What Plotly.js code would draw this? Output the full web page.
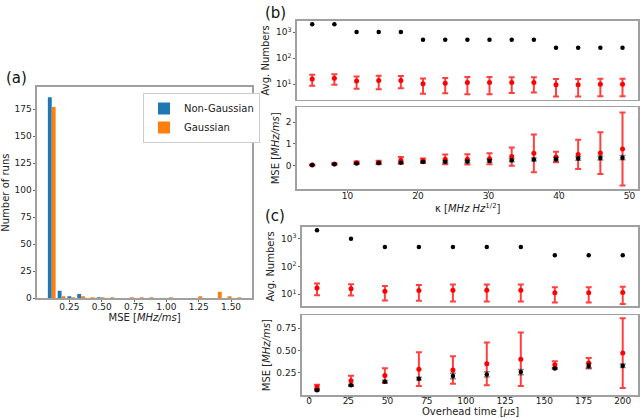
<!DOCTYPE html>
<html>
<head>
<meta charset="utf-8">
<script src="https://cdn.plot.ly/plotly-3.0.1.min.js"></script>
<style>
  body { margin: 0; background: #fff; }
  #chart { width: 640px; height: 418px; }
</style>
</head>
<body>
<div id="chart"></div>
<script>
// (a) histogram of MSE
var binCenters = [0.114, 0.190, 0.265, 0.341, 0.416, 0.492, 0.567, 0.643, 0.718, 0.794,
                  0.869, 0.945, 1.020, 1.096, 1.171, 1.247, 1.322, 1.398, 1.473, 1.549];
var countsNonGauss = [186, 7, 2, 4, 0, 1, 0, 0, 0, 0, 0, 0, 0, 0, 0, 0, 0, 0, 0, 0];
var countsGauss    = [177, 2, 1, 2, 1, 1, 1, 0, 1, 1, 1, 0, 1, 0, 0, 2, 0, 6, 2, 1];

// (b) vs kappa
var kappa = [5.00, 8.14, 11.29, 14.43, 17.57, 20.71, 23.86, 27.00, 30.14, 33.29, 36.43, 39.57, 42.71, 45.86, 49.00];
var kNumBlack = [2048, 2048, 1024, 1024, 1024, 512, 512, 512, 512, 512, 512, 256, 256, 256, 256];
var kNumRed = [16, 17, 13.3, 14, 14, 10.5, 11, 11.6, 11.6, 11.6, 11.7, 9.7, 9.7, 10, 10];
var kNumRedErr = [7.2, 7.4, 6.6, 7.5, 7, 6.2, 6.5, 7.5, 7.5, 7, 6.9, 6.3, 6.3, 6.5, 6.5];
var kMseRed = [0.03, 0.08, 0.14, 0.15, 0.25, 0.23, 0.29, 0.29, 0.32, 0.42, 0.57, 0.40, 0.52, 0.58, 0.77];
var kMseRedErr = [0.02, 0.03, 0.05, 0.08, 0.15, 0.1, 0.23, 0.24, 0.25, 0.42, 0.87, 0.24, 0.67, 0.96, 1.68];
var kMseBlack = [0.03, 0.07, 0.10, 0.12, 0.14, 0.17, 0.18, 0.19, 0.22, 0.25, 0.28, 0.30, 0.33, 0.35, 0.37];
var kMseBlackErr = [0.01, 0.02, 0.03, 0.03, 0.04, 0.04, 0.05, 0.05, 0.06, 0.07, 0.07, 0.08, 0.08, 0.09, 0.1];

// (c) vs overhead time
var overhead = [5, 26.7, 48.3, 70, 91.7, 113.3, 135, 156.7, 178.3, 200];
var tNumBlack = [2048, 1024, 512, 512, 512, 512, 512, 256, 256, 256];
var tNumRed = [17, 16, 13, 13.8, 14, 14, 14, 11.5, 11.5, 11.7];
var tNumRedErr = [7.7, 7, 7, 7.9, 8.5, 8.5, 8.5, 6.4, 6.4, 7.2];
var tMseRed = [0.09, 0.16, 0.22, 0.29, 0.28, 0.35, 0.40, 0.34, 0.36, 0.47];
var tMseRedErr = [0.025, 0.055, 0.08, 0.19, 0.155, 0.24, 0.30, 0.04, 0.055, 0.39];
var tMseBlack = [0.054, 0.11, 0.15, 0.183, 0.213, 0.231, 0.257, 0.298, 0.324, 0.328];
var tMseBlackErr = [0.01, 0.01, 0.015, 0.015, 0.03, 0.03, 0.03, 0.01, 0.03, 0.02];

var redErr = { type: "data", visible: true, color: "rgba(255,0,0,0.75)", thickness: 2, width: 3 };
var blackErr = { type: "data", visible: true, color: "rgba(0,0,0,0.45)", thickness: 1.5, width: 3 };

function redPts(x, y, e, xa, ya) {
  return {
    x: x, y: y, xaxis: xa, yaxis: ya, type: "scatter", mode: "markers",
    marker: { color: "red", size: 5 }, showlegend: false,
    error_y: Object.assign({ array: e }, redErr)
  };
}
function blackPts(x, y, e, xa, ya) {
  var t = {
    x: x, y: y, xaxis: xa, yaxis: ya, type: "scatter", mode: "markers",
    marker: { color: "black", size: 4.5 }, showlegend: false
  };
  if (e) t.error_y = Object.assign({ array: e }, blackErr);
  return t;
}

var data = [
  { x: binCenters, y: countsNonGauss, type: "bar", name: "Non-Gaussian", marker: { color: "#1f77b4" }, xaxis: "x", yaxis: "y" },
  { x: binCenters, y: countsGauss, type: "bar", name: "Gaussian", marker: { color: "#ff7f0e" }, xaxis: "x", yaxis: "y" },
  blackPts(kappa, kNumBlack, null, "x2", "y2"),
  redPts(kappa, kNumRed, kNumRedErr, "x2", "y2"),
  redPts(kappa, kMseRed, kMseRedErr, "x3", "y3"),
  blackPts(kappa, kMseBlack, kMseBlackErr, "x3", "y3"),
  blackPts(overhead, tNumBlack, null, "x4", "y4"),
  redPts(overhead, tNumRed, tNumRedErr, "x4", "y4"),
  redPts(overhead, tMseRed, tMseRedErr, "x5", "y5"),
  blackPts(overhead, tMseBlack, tMseBlackErr, "x5", "y5")
];

function ax(extra) {
  var base = {
    showline: true, mirror: true, linecolor: "#a0a0a0", linewidth: 1.5,
    ticks: "outside", ticklen: 2, tickcolor: "#666", showgrid: false, zeroline: false,
    tickfont: { size: 9, color: "#222" }
  };
  return Object.assign(base, extra);
}
function ttl(t, standoff) {
  return { text: t, font: { size: 10, color: "#222" }, standoff: standoff };
}

var logTicks = { type: "log", tickvals: [10, 100, 1000], ticktext: ["10<sup>1</sup>", "10<sup>2</sup>", "10<sup>3</sup>"] };

// panel letters and the x titles of the right-hand panels, placed in pixels
var labels = [
  { text: "(a)", x: 4, y: 78, size: 15, anchor: "left" },
  { text: "(b)", x: 263, y: 13, size: 15, anchor: "left" },
  { text: "(c)", x: 263, y: 216, size: 15, anchor: "left" },
  { text: "κ [<i>MHz Hz</i><sup>1/2</sup>]", x: 468, y: 207.5, size: 10, anchor: "center" },
  { text: "Overhead time [<i>μ</i>s]", x: 470, y: 411, size: 10, anchor: "center" }
];

var layout = {
  width: 640, height: 418,
  margin: { l: 0, r: 0, t: 0, b: 0 },
  paper_bgcolor: "#fff", plot_bgcolor: "#fff",
  font: { family: "DejaVu Sans, sans-serif", color: "#222" },
  barmode: "group", bargap: 0.2, bargroupgap: 0,
  showlegend: true,
  legend: {
    x: 0.2234, y: 0.7775, xanchor: "left", yanchor: "top",
    bgcolor: "#fff", bordercolor: "#ccc", borderwidth: 1,
    font: { size: 10 }, tracegroupgap: 0
  },
  xaxis: ax({ domain: [0.0578, 0.394], anchor: "y", range: [0.0, 1.663],
    tickvals: [0.25, 0.5, 0.75, 1.0, 1.25, 1.5], tickformat: ".2f", ticklabelstandoff: -3,
    title: ttl("MSE [<i>MHz/ms</i>]", 1) }),
  yaxis: ax({ domain: [0.2864, 0.7919], anchor: "x", range: [0, 195.5],
    tickvals: [0, 25, 50, 75, 100, 125, 150, 175],
    title: ttl("Number of runs", 4) }),

  xaxis2: ax({ domain: [0.4636, 0.9969], anchor: "y2", range: [2.8, 51.2], showticklabels: false, ticks: "" }),
  yaxis2: ax(Object.assign({ domain: [0.7608, 0.9505], anchor: "x2", range: [0.396, 3.446],
    title: ttl("Avg. Numbers", 4) }, logTicks)),
  xaxis3: ax({ domain: [0.4636, 0.9969], anchor: "y3", range: [2.8, 51.2],
    tickvals: [10, 20, 30, 40, 50], ticklabelstandoff: -5 }),
  yaxis3: ax({ domain: [0.5471, 0.7433], anchor: "x3", range: [-1.09, 2.69],
    tickvals: [0, 1, 2],
    title: ttl("MSE [<i>MHz/ms</i>]", 4) }),

  xaxis4: ax({ domain: [0.4714, 0.9969], anchor: "y4", range: [-4.75, 209.75], showticklabels: false, ticks: "" }),
  yaxis4: ax(Object.assign({ domain: [0.2679, 0.4577], anchor: "x4", range: [0.578, 3.444],
    title: ttl("Avg. Numbers", 4) }, logTicks)),
  xaxis5: ax({ domain: [0.4714, 0.9969], anchor: "y5", range: [-4.75, 209.75],
    tickvals: [0, 25, 50, 75, 100, 125, 150, 175, 200], ticklabelstandoff: -5 }),
  yaxis5: ax({ domain: [0.0550, 0.2457], anchor: "x5", range: [0.0, 0.894],
    tickvals: [0.25, 0.5, 0.75], tickformat: ".2f",
    title: ttl("MSE [<i>MHz/ms</i>]", 4) }),

  annotations: labels.map(function (a) {
    return {
      text: a.text, xref: "paper", yref: "paper",
      x: a.x / 640, y: 1 - a.y / 418, xanchor: a.anchor, yanchor: "middle",
      showarrow: false, font: { size: a.size, color: a.size > 12 ? "#111" : "#222" }
    };
  })
};

Plotly.newPlot("chart", data, layout, { displayModeBar: false, staticPlot: true });
</script>
</body>
</html>
